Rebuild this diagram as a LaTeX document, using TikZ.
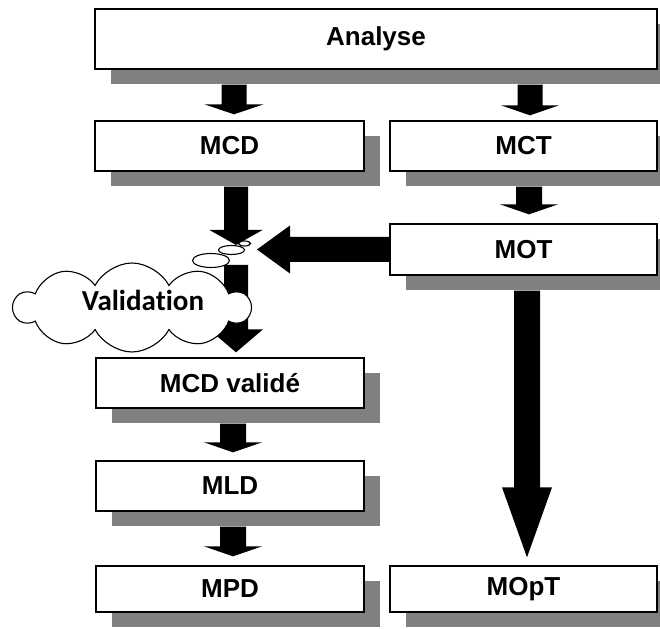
\documentclass[tikz,border=0pt]{standalone}
\usepackage{fontspec}
\setmainfont{Liberation Sans}
\newfontfamily\cloudfont[Ligatures=NoCommon]{Carlito}
\usetikzlibrary{calc,shadows,shapes.symbols,shapes.geometric}
\newcommand\darrow[5]{\fill[black] let \p1=(#1), \p2=(#2) in
  (\x1-#3pt,\y1) -- (\x1+#3pt,\y1) -- (\x1+#3pt,\y2+#5pt) -- (\x1+#4pt,\y2+#5pt)
  -- (\x1,\y2) -- (\x1-#4pt,\y2+#5pt) -- (\x1-#3pt,\y2+#5pt) -- cycle;}
\begin{document}
\begin{tikzpicture}[x=1pt,y=1pt,
  box/.style={draw=black, line width=1.3pt, fill=white, inner sep=0pt,
    font=\bfseries\fontsize{26}{31}\selectfont,
    drop shadow={shadow xshift=16pt,shadow yshift=-15pt,fill=black!50,opacity=1}},
  bubble/.style={ellipse, draw=black, line width=1.1pt, fill=white, inner sep=0pt}]
\useasboundingbox (0,0) rectangle (660,628);
\clip (0,0) rectangle (660,628);
\fill[white] (0,0) rectangle (660,628);
% boxes
\node[box, minimum width=562pt, minimum height=60pt] (analyse) at (376,589) {Analyse};
\node[box, minimum width=269pt, minimum height=50pt] (mcd) at (229.5,482) {MCD};
\node[box, minimum width=267pt, minimum height=50pt] (mct) at (523.5,482) {MCT};
\node[box, minimum width=267pt, minimum height=51pt] (mot) at (523.5,378.5) {MOT};
\node[box, minimum width=268pt, minimum height=50pt] (mcdv) at (230,245) {MCD validé};
\node[box, minimum width=268pt, minimum height=50pt] (mld) at (230,142) {MLD};
\node[box, minimum width=268pt, minimum height=46pt] (mpd) at (230,39) {MPD};
\node[box, minimum width=267pt, minimum height=46pt] (mopt) at (523.5,39) {MOpT};
% arrow end points
\coordinate (s1) at ($(analyse.south -| mcd.north)+(4.5,-15)$);
\coordinate (t1) at ($(mcd.north)+(4.5,6)$);
\coordinate (s2) at ($(analyse.south -| mct.north)+(6.5,-15)$);
\coordinate (t2) at ($(mct.north)+(6.5,5)$);
\coordinate (s3) at ($(mct.south)+(5.5,-15)$);
\coordinate (t3) at ($(mot.north)+(5.5,9)$);
\coordinate (junc) at (236,380);
\coordinate (s4) at ($(mcd.south)+(6.5,-15)$);
\coordinate (t4) at ($(junc)+(0,3)$);
\coordinate (s5) at ($(junc)+(0,-17)$);
\coordinate (t5) at ($(mcdv.north)+(6,5)$);
\coordinate (t6) at ($(junc)+(21,-1.5)$);
\coordinate (s7) at ($(mcdv.south)+(3,-15)$);
\coordinate (t7) at ($(mld.north)+(3,8)$);
\coordinate (s8) at ($(mld.south)+(3,-15)$);
\coordinate (t8) at ($(mpd.north)+(3,9)$);
\coordinate (s9) at ($(mot.south)+(3.5,-15)$);
\coordinate (t9) at ($(mopt.north)+(3.5,8)$);
% block arrows
\darrow{s1}{t1}{12.5}{29.5}{10}
\darrow{s2}{t2}{12.5}{29}{10}
\darrow{s3}{t3}{13}{29}{10}
\darrow{s4}{t4}{12}{26.5}{15}
\darrow{s5}{t5}{12}{27}{23}
\darrow{s7}{t7}{13}{29}{10}
\darrow{s8}{t8}{13}{29}{10}
\darrow{s9}{t9}{13}{25}{70}
\fill[black] let \p1=(mot.west), \p2=(t6) in
  (\x1,\y1-12.5pt) -- (\x2+33pt,\y1-12.5pt) -- (\x2+33pt,\y1-24pt) -- (\x2,\y2)
  -- (\x2+33pt,\y1+24pt) -- (\x2+33pt,\y1+12.5pt) -- (\x1,\y1+12.5pt) -- cycle;
% thought bubbles and cloud
\node[bubble, minimum width=12pt, minimum height=5pt] (b1) at (244.5,384.5) {};
\node[bubble, minimum width=26pt, minimum height=9pt] (b2) at (231.5,378) {};
\node[bubble, minimum width=37pt, minimum height=14pt] (b3) at (211,367.5) {};
\node[cloud, cloud puffs=10, cloud puff arc=125, cloud ignores aspect, draw=black,
  line width=1.1pt, fill=white, minimum width=236pt, minimum height=89pt] (cloud) at (132,320.5) {};
\node[font=\cloudfont\bfseries\fontsize{29}{33}\selectfont, inner sep=0pt] (val) at (143,328) {Validation};
\end{tikzpicture}
\end{document}
